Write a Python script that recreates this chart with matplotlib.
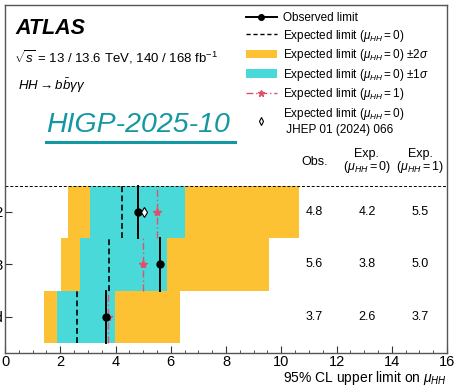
import matplotlib
matplotlib.use('Agg')
import matplotlib.pyplot as plt
from matplotlib.lines import Line2D
from matplotlib.patches import Patch
from matplotlib.ticker import MultipleLocator

plt.rcParams.update({
    'font.family': 'Liberation Sans', 'font.size': 10,
    'mathtext.fontset': 'custom', 'mathtext.rm': 'Liberation Sans',
    'mathtext.it': 'Liberation Sans:italic', 'mathtext.bf': 'Liberation Sans:bold',
    'mathtext.fallback': 'cm',
})

# limits on mu_HH, rows from bottom to top
rows = ['Combined', 'Run 3', 'Run 2']
obs = [3.7, 5.6, 4.8]
exp0 = [2.6, 3.8, 4.2]
exp1 = [3.7, 5.0, 5.5]
obs_x = [3.67, 5.62, 4.83]
exp0_x = [2.60, 3.78, 4.23]
exp1_x = [3.74, 5.01, 5.49]
band1_lo = [1.90, 2.73, 3.06]
band1_hi = [3.99, 5.86, 6.53]
band2_lo = [1.40, 2.03, 2.29]
band2_hi = [6.33, 9.54, 10.66]
prev_exp_run2 = 5.04  # JHEP 01 (2024) 066

yellow = '#fcc234'
cyan = '#4ad9d9'
red = '#e0506a'

W, H = 455, 388
fig = plt.figure(figsize=(W / 100, H / 100), dpi=100)
ax = fig.add_axes([5 / W, 1 - 353 / H, 442 / W, 348 / H])

ypos = list(range(len(rows)))
for y, lo2, hi2, lo1, hi1 in zip(ypos, band2_lo, band2_hi, band1_lo, band1_hi):
    ax.fill_betweenx([y - 0.5, y + 0.5], lo2, hi2, color=yellow, lw=0)
    ax.fill_betweenx([y - 0.5, y + 0.5], lo1, hi1, color=cyan, lw=0)

for y, xo, xe, x1 in zip(ypos, obs_x, exp0_x, exp1_x):
    ax.plot([xe, xe], [y - 0.5, y + 0.5], color='black', ls=(0, (3.5, 2)), lw=1.2)
    ax.plot([x1, x1], [y - 0.5, y + 0.5], color=red, ls=(0, (5, 2, 1, 2)), lw=1.0)
    ax.plot(x1, y, marker='*', color=red, ms=6, ls='none')
    ax.plot([xo, xo], [y - 0.5, y + 0.5], color='black', lw=1.4)
    ax.plot(xo, y, marker='o', color='black', ms=5, ls='none')

ax.plot(prev_exp_run2, 2, marker='d', mfc='white', mec='black', mew=0.8, ms=5, ls='none')

ax.axhline(2.5, color='black', ls=(0, (3, 2)), lw=0.7)

# summary table
col_x = [11.2, 13.1, 15.03]
for y, vals in zip(ypos, zip(obs, exp0, exp1)):
    for cx, v in zip(col_x, vals):
        ax.text(cx, y, f'{v:.1f}', ha='center', va='center', fontsize=9)
ax.text(col_x[0], 2.96, 'Obs.', ha='center', va='center', fontsize=9)
ax.text(col_x[1], 3.1, 'Exp.', ha='center', va='center', fontsize=9)
ax.text(col_x[2], 3.1, 'Exp.', ha='center', va='center', fontsize=9)
ax.text(col_x[1], 2.86, r'($\mu_{HH}=0$)', ha='center', va='center', fontsize=9)
ax.text(col_x[2], 2.86, r'($\mu_{HH}=1$)', ha='center', va='center', fontsize=9)

ax.set_xlim(0, 16)
ax.set_ylim(-0.686, 5.943)
ax.set_yticks(ypos)
ax.set_yticklabels(rows)
ax.xaxis.set_major_locator(MultipleLocator(2))
ax.xaxis.set_minor_locator(MultipleLocator(0.5))
ax.tick_params(which='both', direction='in', colors='#333333', labelcolor='black', labelsize=10.5)
ax.tick_params(which='major', length=5)
ax.tick_params(which='minor', length=2.5)
ax.tick_params(axis='x', pad=1.5)
ax.tick_params(axis='y', pad=1.0)
for s in ax.spines.values():
    s.set_color('#555555')
    s.set_linewidth(1.0)
ax.set_xlabel(r'95% CL upper limit on $\mu_{HH}$', fontsize=10, loc='right', labelpad=0)

handles = [
    Line2D([], [], color='black', lw=1.4, marker='o', ms=4),
    Line2D([], [], color='black', lw=1.0, ls=(0, (3, 2))),
    Patch(color=yellow, lw=0),
    Patch(color=cyan, lw=0),
    Line2D([], [], color=red, lw=1.0, ls=(0, (5, 2, 1, 2)), marker='*', ms=5),
    Line2D([], [], ls='none', marker='d', mfc='white', mec='black', mew=0.8, ms=4),
]
labels = [
    'Observed limit',
    r'Expected limit ($\mu_{HH}=0$)',
    r'Expected limit ($\mu_{HH}=0$) $\pm 2\sigma$',
    r'Expected limit ($\mu_{HH}=0$) $\pm 1\sigma$',
    r'Expected limit ($\mu_{HH}=1$)',
    'Expected limit ($\\mu_{HH}=0$)\n JHEP 01 (2024) 066',
]
ax.legend(handles, labels, loc='upper left', bbox_to_anchor=((246 - 5) / 442, (353 - 12) / 348),
          frameon=False, fontsize=8.5, handlelength=2.6, handletextpad=0.5,
          labelspacing=0.3, borderpad=0, borderaxespad=0)

fig.text(15 / W, 1 - 34 / H, 'ATLAS', fontsize=15.5, fontweight='bold', fontstyle='italic')
fig.text(14 / W, 1 - 57 / H, r'$\sqrt{s}$ = 13 / 13.6 TeV, 140 / 168 fb$^{-1}$',
         fontsize=9.5, va='center')
fig.text(18 / W, 1 - 86 / H, r'$HH \rightarrow b\bar{b}\gamma\gamma$', fontsize=9.5, va='center')
teal = '#1597a3'
fig.text(46 / W, 1 - 132 / H, 'HIGP-2025-10', fontsize=20.5, fontstyle='italic', color=teal)
fig.add_artist(Line2D([46 / W, 235 / W], [1 - 142 / H, 1 - 142 / H], color=teal, lw=2.2))

fig.savefig('out.png', dpi=100)
